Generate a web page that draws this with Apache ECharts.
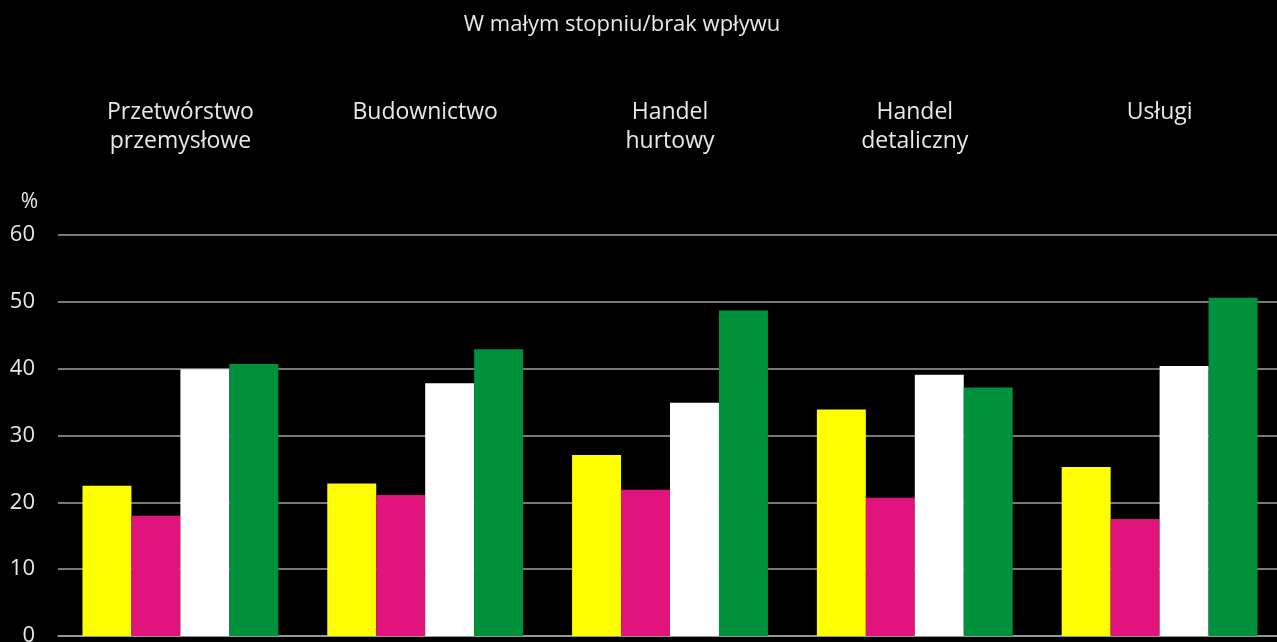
<!DOCTYPE html>
<html><head><meta charset="utf-8">
<script src="https://cdn.jsdelivr.net/npm/echarts@6/dist/echarts.min.js"></script>
<style>html,body{margin:0;padding:0;background:#000;}#c{width:1277px;height:642px;}</style>
</head><body><div id="c"></div>
<script>
const title = 'W małym stopniu/brak wpływu';
const categories = ['Przetwórstwo\nprzemysłowe', 'Budownictwo', 'Handel\nhurtowy', 'Handel\ndetaliczny', 'Usługi'];
const yTicks = [0, 10, 20, 30, 40, 50, 60];
const seriesNames = ['Seria 1', 'Seria 2', 'Seria 3', 'Seria 4'];
const s1 = [22.5, 22.8, 27.1, 33.9, 25.3];
const s2 = [18.0, 21.1, 21.9, 20.7, 17.5];
const s3 = [39.9, 37.8, 34.9, 39.1, 40.4];
const s4 = [40.7, 42.9, 48.7, 37.2, 50.6];
const colors = ['#ffff00', '#e0147c', '#ffffff', '#00913d'];
const values = [s1, s2, s3, s4];

const font = '"Open Sans", "Noto Sans", sans-serif';
const txt = '#e8e8e8';
const chart = echarts.init(document.getElementById('c'), null, {renderer: 'canvas'});
chart.setOption({
  backgroundColor: '#000',
  animation: false,
  title: {text: title, left: 617, top: 9, textAlign: 'center',
    textStyle: {color: txt, fontSize: 22, fontWeight: 'normal', fontFamily: font}},
  grid: {left: 58, right: -5, top: 235, bottom: 6, outerBoundsMode: 'none', containLabel: false},
  xAxis: [
    {type: 'category', data: categories, position: 'bottom',
      axisLine: {show: true, lineStyle: {color: '#a0a0a0', width: 1.5}},
      axisTick: {show: false}, axisLabel: {show: false}},
    {type: 'category', data: categories, position: 'top',
      axisLine: {show: false}, axisTick: {show: false},
      axisLabel: {show: true, color: txt, fontSize: 23, fontFamily: font, lineHeight: 29,
        margin: 137, verticalAlign: 'top', interval: 0}}
  ],
  yAxis: {type: 'value', min: yTicks[0], max: yTicks[yTicks.length - 1], interval: 10,
    name: '%', nameLocation: 'end', nameGap: 22,
    nameTextStyle: {color: txt, fontSize: 21, fontFamily: font, align: 'right', padding: [0, 20, 0, 0]},
    axisLine: {show: false}, axisTick: {show: false},
    axisLabel: {color: txt, fontSize: 22, fontFamily: font, margin: 23},
    splitLine: {lineStyle: {color: '#a0a0a0', width: 1.5}}},
  series: values.map((v, i) => ({
    name: seriesNames[i], type: 'bar', data: v, xAxisIndex: 0,
    barGap: '0%', barCategoryGap: '20%',
    itemStyle: {color: colors[i]}
  }))
});
</script></body></html>
